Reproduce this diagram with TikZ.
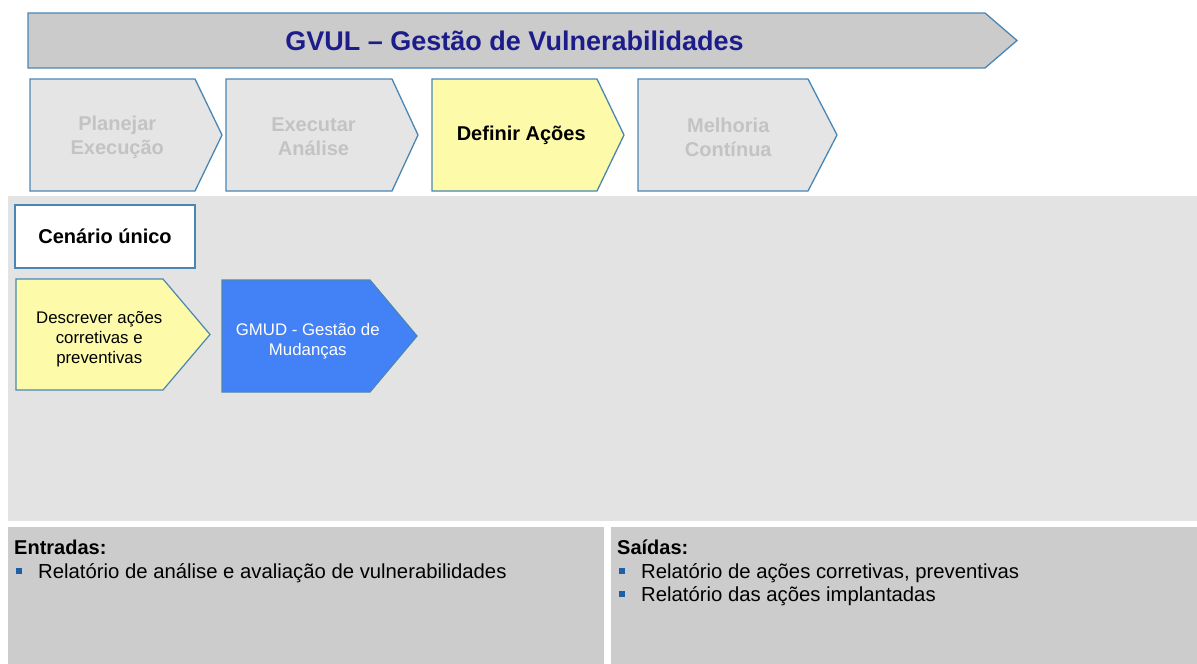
\documentclass[tikz,border=0pt]{standalone}
\usepackage{fontspec}
\setmainfont{Liberation Sans}
\definecolor{edgeblue}{HTML}{4A86B4}
\definecolor{bannerfill}{HTML}{CBCBCB}
\definecolor{titlenavy}{HTML}{1C1C8A}
\definecolor{stepfill}{HTML}{E5E5E5}
\definecolor{steptext}{HTML}{C3C3C3}
\definecolor{paleyellow}{HTML}{FDFBAA}
\definecolor{gmudblue}{HTML}{4282F6}
\definecolor{areagray}{HTML}{E3E3E3}
\definecolor{panelgray}{HTML}{CCCCCC}
\definecolor{bulletblue}{HTML}{1F5FA8}

% chevron: name, left, top, shoulder, tip, bottom, style, text
\newcommand\chevron[8]{%
  \draw[#7] (#2,#3) -- (#4,#3) -- (#5,{(#3+#6)/2}) -- (#4,#6) -- (#2,#6) -- cycle;
  \node[#7 label] (#1) at ({(#2+#4)/2+(#5-#4)/4},{(#3+#6)/2}) {#8};
}

\tikzset{
  banner/.style={fill=bannerfill, draw=edgeblue, line width=1.3pt},
  banner label/.style={font=\fontsize{27}{30}\selectfont\bfseries, text=titlenavy},
  idle/.style={fill=stepfill, draw=edgeblue, line width=1.3pt},
  idle label/.style={font=\fontsize{20}{24}\selectfont\bfseries, text=steptext,
    align=center, xshift=-2pt, yshift=-2pt},
  active/.style={fill=paleyellow, draw=edgeblue, line width=1.3pt},
  active label/.style={font=\fontsize{20}{24}\selectfont\bfseries, text=black, align=center},
  task/.style={fill=paleyellow, draw=edgeblue, line width=1.2pt},
  task label/.style={font=\fontsize{16.8}{20}\selectfont, text=black, align=center,
    xshift=-2pt, yshift=-5pt},
  gmud/.style={fill=gmudblue, draw=edgeblue, line width=1.2pt},
  gmud label/.style={font=\fontsize{16.8}{20}\selectfont, text=white, align=center,
    yshift=-5pt},
  scenario/.style={fill=white, draw=edgeblue, line width=1.3pt, minimum width=180pt,
    minimum height=63pt, font=\fontsize{20}{24}\selectfont\bfseries, inner sep=0pt},
  head/.style={anchor=base west, font=\fontsize{20}{23}\selectfont\bfseries, inner sep=0pt},
  item/.style={anchor=base west, font=\fontsize{20.3}{23}\selectfont, inner sep=0pt},
  bullet/.style={fill=bulletblue, minimum size=6.5pt, inner sep=0pt},
}

\begin{document}
\begin{tikzpicture}[x=1pt,y=-1pt]
  \useasboundingbox (0,0) rectangle (1197,664);
  \fill[white] (0,0) rectangle (1197,664);

  % process banner
  \chevron{title}{28}{13}{985}{1017}{68}{banner}{GVUL – Gestão de Vulnerabilidades}

  % phase steps
  \chevron{plan}{30}{79}{195}{222}{191}{idle}{Planejar\\Execução}
  \chevron{exec}{226}{79}{392}{418}{191}{idle}{Executar\\Análise}
  \chevron{def}{432}{79}{597}{624}{191}{active}{Definir Ações}
  \chevron{impr}{638}{79}{808}{837}{191}{idle}{Melhoria\\Contínua}

  % working area
  \fill[areagray] (8,196) rectangle (1197,521);
  \node[scenario] (scen) at (105,236.5) {Cenário único};
  \chevron{desc}{16}{279}{163}{210}{390}{task}{Descrever ações\\corretivas e\\preventivas}
  \chevron{gmudstep}{222}{280}{370}{417}{392}{gmud}{GMUD - Gestão de\\Mudanças}

  % inputs and outputs
  \fill[panelgray] (8,527) rectangle (604,664);
  \fill[panelgray] (611,527) rectangle (1197,664);

  \node[head] (inhead) at (14,554) {Entradas:};
  \node[bullet] (inb1) at (19,571) {};
  \node[item] (in1) at (38,578) {Relatório de análise e avaliação de vulnerabilidades};

  \node[head] (outhead) at (617,554) {Saídas:};
  \node[bullet] (outb1) at (622,571) {};
  \node[item] (out1) at (641,578) {Relatório de ações corretivas, preventivas};
  \node[bullet] (outb2) at (622,594) {};
  \node[item] (out2) at (641,601) {Relatório das ações implantadas};
\end{tikzpicture}
\end{document}
